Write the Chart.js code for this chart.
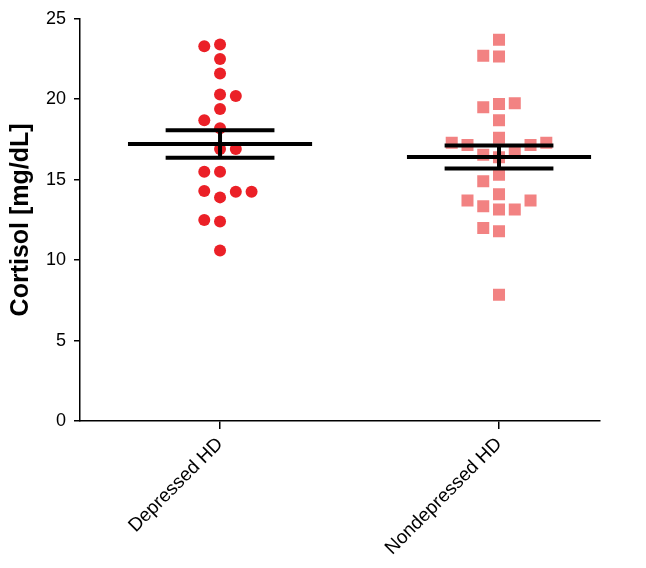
<!DOCTYPE html>
<html>
<head>
<meta charset="utf-8">
<script src="https://cdn.jsdelivr.net/npm/chart.js@4"></script>
<style>
  body { margin: 0; background: #fff; }
</style>
</head>
<body>
<canvas id="chart" width="646" height="568"></canvas>
<script>
// Groups on the x axis
const categories = ['Depressed HD', 'Nondepressed HD'];

// Individual cortisol values (mg/dL) and their column in the beeswarm
const depressedValues = [23.3, 23.4, 22.5, 21.6, 20.3, 20.2, 19.4, 18.7, 18.2, 16.9, 16.9,
    15.5, 15.5, 14.3, 14.25, 14.25, 13.9, 12.5, 12.4, 10.6];
const depressedCols = [-1, 0, 0, 0, 0, 1, 0, -1, 0, 0, 1, -1, 0, -1, 1, 2, 0, -1, 0, 0];

const nondepressedValues = [23.7, 22.7, 22.65, 19.5, 19.7, 19.75, 18.7, 17.6, 17.3, 17.15, 17.15,
    17.3, 16.55, 16.7, 16.4, 15.3, 14.9, 14.1, 13.7, 13.7, 13.35, 13.15, 13.15, 12.0, 11.8, 7.85];
const nondepressedCols = [0, -1, 0, -1, 0, 1, 0, 0, -3, -2, 2, 3, -1, 1, 0, 0, -1, 0, -2, 2, -1, 0, 1, -1, 0, 0];

// Mean and SEM per group
const groupMeans = [17.22, 16.41];
const groupSem = [0.86, 0.72];

// y axis ticks
const yTicks = [0, 5, 10, 15, 20, 25];

const COL_STEP = 0.0565;
const MEAN_HALF = 0.33;
const CAP_HALF = 0.195;

function swarm(values, cols, group) {
    return values.map(function(v, i) {
        return { x: group + cols[i] * COL_STEP, y: v };
    });
}

function segment(x1, y1, x2, y2) {
    return {
        type: 'scatter',
        data: [{ x: x1, y: y1 }, { x: x2, y: y2 }],
        showLine: true,
        borderColor: '#000',
        borderWidth: 4,
        borderCapStyle: 'butt',
        pointRadius: 0,
        order: 0
    };
}

// Mean line, SEM caps and the vertical bar for each group
const summaryLines = [];
groupMeans.forEach(function(m, g) {
    const s = groupSem[g];
    summaryLines.push(segment(g - MEAN_HALF, m, g + MEAN_HALF, m));
    summaryLines.push(segment(g - CAP_HALF, m + s, g + CAP_HALF, m + s));
    summaryLines.push(segment(g - CAP_HALF, m - s, g + CAP_HALF, m - s));
    summaryLines.push(segment(g, m - s, g, m + s));
});

new Chart(document.getElementById('chart'), {
    type: 'scatter',
    data: {
        datasets: [{
            data: swarm(depressedValues, depressedCols, 0),
            pointStyle: 'circle',
            pointRadius: 6,
            borderWidth: 0,
            backgroundColor: '#eb2027',
            order: 1
        }, {
            data: swarm(nondepressedValues, nondepressedCols, 1),
            pointStyle: 'rect',
            pointRadius: 8.5,
            borderWidth: 0,
            backgroundColor: '#f28282',
            order: 1
        }].concat(summaryLines)
    },
    options: {
        responsive: false,
        animation: false,
        layout: {
            padding: { top: 8, right: 46, bottom: 0, left: 0 }
        },
        plugins: {
            legend: { display: false },
            tooltip: { enabled: false }
        },
        scales: {
            x: {
                type: 'linear',
                min: -0.502,
                max: 1.362,
                afterBuildTicks: function(scale) {
                    scale.ticks = [{ value: 0 }, { value: 1 }];
                },
                afterFit: function(scale) {
                    scale.height = 147;
                },
                border: { color: '#000', width: 1.5 },
                grid: {
                    drawOnChartArea: false,
                    drawTicks: true,
                    tickLength: 8,
                    color: '#000',
                    lineWidth: 1.5
                },
                ticks: {
                    autoSkip: false,
                    minRotation: 45,
                    maxRotation: 45,
                    padding: 4,
                    color: '#000',
                    font: { family: 'Liberation Sans, Arial, sans-serif', size: 19 },
                    callback: function(v) { return categories[v]; }
                }
            },
            y: {
                min: 0,
                max: 25,
                afterBuildTicks: function(scale) {
                    scale.ticks = yTicks.map(function(v) { return { value: v }; });
                },
                afterFit: function(scale) {
                    scale.width = 80;
                },
                border: { color: '#000', width: 1.5 },
                grid: {
                    drawOnChartArea: false,
                    drawTicks: true,
                    tickLength: 6,
                    color: '#000',
                    lineWidth: 1.5
                },
                ticks: {
                    padding: 8,
                    color: '#000',
                    font: { family: 'Liberation Sans, Arial, sans-serif', size: 18 }
                },
                title: {
                    display: true,
                    text: 'Cortisol [mg/dL]',
                    color: '#000',
                    padding: { top: 6, bottom: 0 },
                    font: { family: 'Liberation Sans, Arial, sans-serif', size: 25, weight: 'bold' }
                }
            }
        }
    }
});
</script>
</body>
</html>
